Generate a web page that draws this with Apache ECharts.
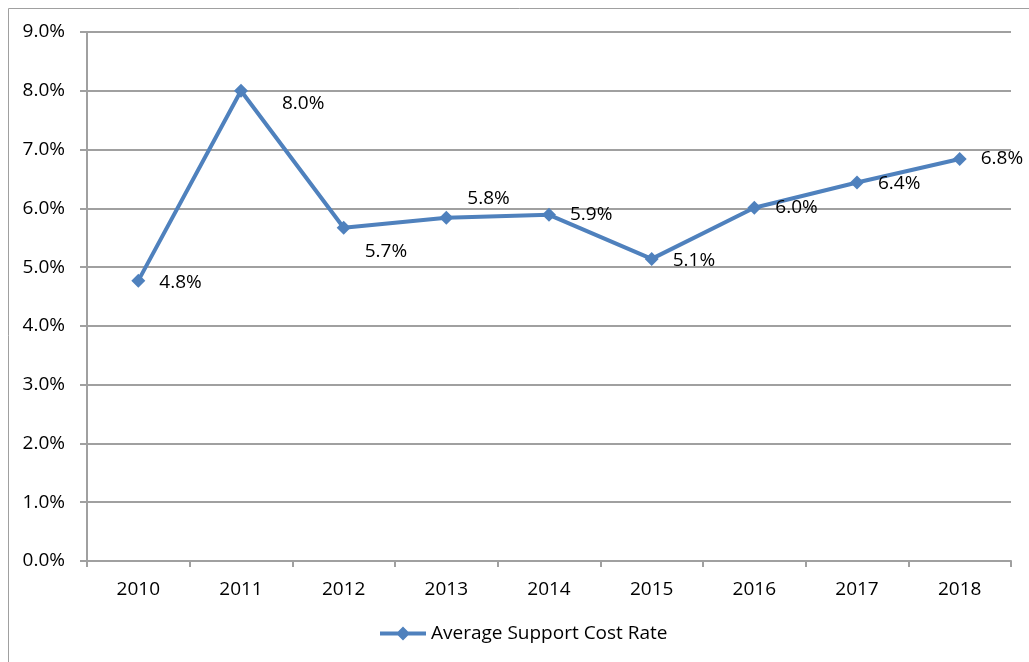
<!DOCTYPE html>
<html><head><meta charset="utf-8">
<script src="https://cdn.jsdelivr.net/npm/echarts@6/dist/echarts.min.js"></script>
<style>html,body{margin:0;padding:0;background:#fff}#c{width:1029px;height:662px}</style>
</head><body><div id="c"></div>
<script>
const categories = ['2010','2011','2012','2013','2014','2015','2016','2017','2018'];
const rates = [4.77, 8.0, 5.67, 5.84, 5.89, 5.14, 6.01, 6.44, 6.84];
const labelOffsets = [[0,2],[20,13],[0,24],[0,-19],[0,0],[0,2],[0,0],[0,1],[0,0]];
const yTicks = [0,1,2,3,4,5,6,7,8,9];
const seriesName = 'Average Support Cost Rate';
const FONT = '"Open Sans", sans-serif';
const FS = 19;
const chart = echarts.init(document.getElementById('c'));
chart.setOption({
  animation: false,
  graphic: [{type:'rect', shape:{x:8.5,y:8.5,width:1040,height:680}, style:{fill:'none',stroke:'#a0a0a0',lineWidth:1}, z:-1}],
  grid: {left:87, top:32, right:18, bottom:101, containLabel:false},
  legend: {data:[seriesName], top:619, left:375, itemWidth:46, itemHeight:14,
    textStyle:{fontFamily:FONT, fontSize:FS, color:'#000'},
    icon:'path://M0,5 L46,5 L46,9 L0,9 Z M23,0 L30,7 L23,14 L16,7 Z'},
  xAxis: {type:'category', data:categories, boundaryGap:true,
    axisLine:{lineStyle:{color:'#a0a0a0', width:2}},
    axisTick:{show:true, length:6, lineStyle:{color:'#a0a0a0', width:2}},
    axisLabel:{fontFamily:FONT, fontSize:FS, color:'#000', margin:19}},
  yAxis: {type:'value', min:0, max:9, interval:1,
    axisLine:{show:true, lineStyle:{color:'#a0a0a0', width:2}},
    axisTick:{show:true, length:7, lineStyle:{color:'#a0a0a0', width:2}},
    splitLine:{lineStyle:{color:'#a0a0a0', width:2}},
    axisLabel:{fontFamily:FONT, fontSize:FS, color:'#000', margin:22, formatter:v=>v.toFixed(1)+'%'}},
  series: [{name:seriesName, type:'line', symbol:'diamond', symbolSize:14,
    lineStyle:{color:'#4f81bd', width:4}, itemStyle:{color:'#4f81bd'},
    data: rates.map((v,i)=>({value:v, label:{offset:labelOffsets[i]}})),
    label:{show:true, position:'right', distance:14, fontFamily:FONT, fontSize:FS, color:'#000',
      formatter:p=>p.value.toFixed(1)+'%'}}]
});
</script></body></html>
